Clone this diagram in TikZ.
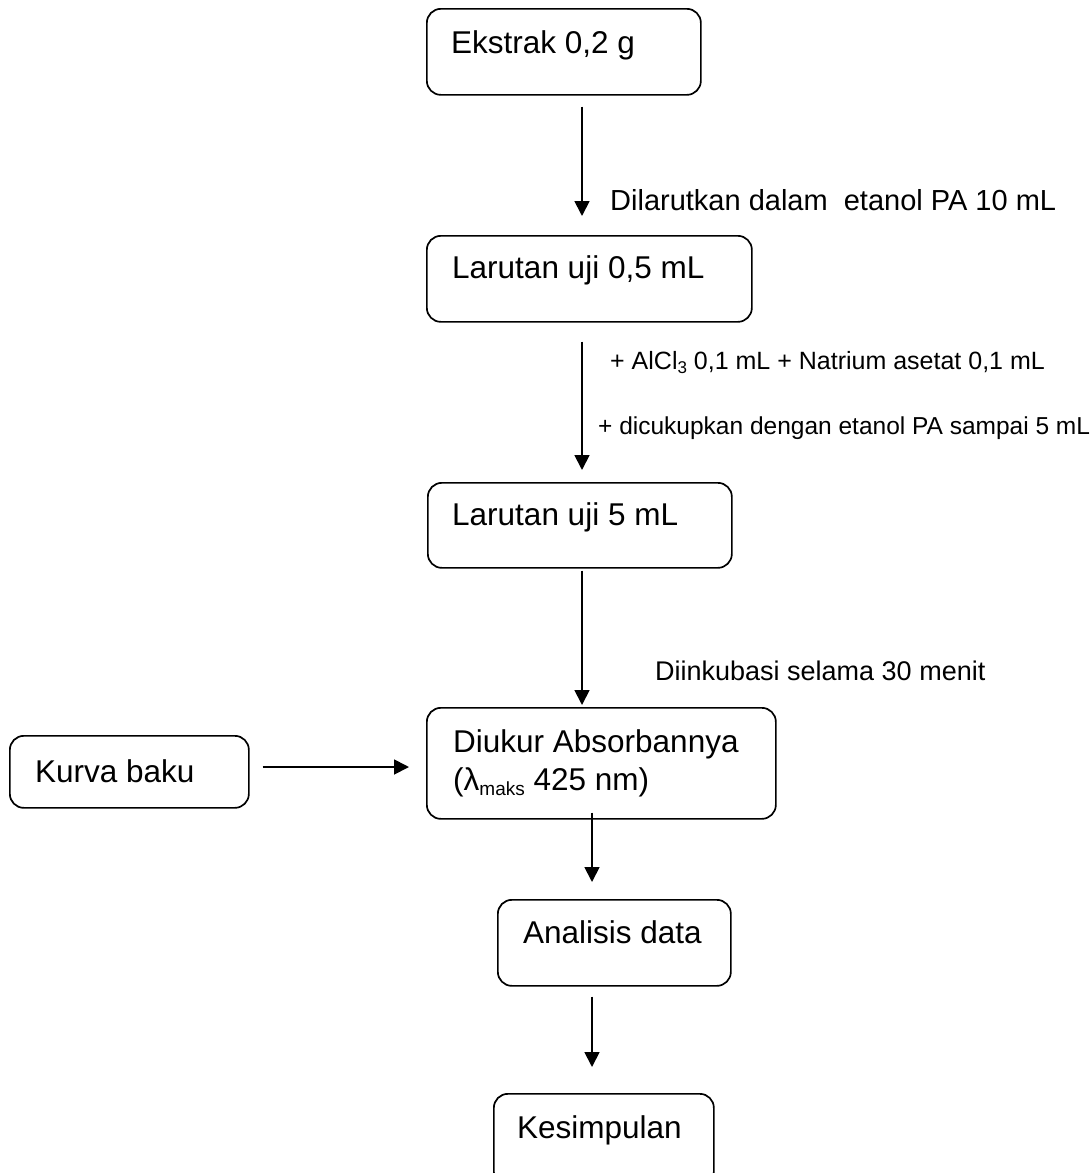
\documentclass[tikz,border=0pt]{standalone}
\usepackage{fontspec}
\setmainfont{Liberation Sans}
\usetikzlibrary{arrows.meta}
\tikzset{
  box/.style={draw, line width=1.7pt, rounded corners=14pt, inner sep=0pt, anchor=north west},
  txt/.style={anchor=base west, inner sep=0pt, font=\fontsize{31.5}{38}\selectfont},
  lbl/.style={anchor=base west, inner sep=0pt, font=\fontsize{24.5}{28}\selectfont},
  arr/.style={line width=1.8pt, -{Triangle[length=15pt,width=15pt]}},
}
\begin{document}
\begin{tikzpicture}[x=1pt,y=-1pt]
\clip (0,0) rectangle (1091,1173);
\fill[white] (0,0) rectangle (1091,1173);
% boxes
\node[box, minimum width=274pt, minimum height=86pt] (b1) at (426,8) {};
\node[box, minimum width=325pt, minimum height=86pt] (b2) at (426,235) {};
\node[box, minimum width=304pt, minimum height=85pt] (b3) at (427,482) {};
\node[box, minimum width=349pt, minimum height=111pt] (b4) at (426,707) {};
\node[box, minimum width=239pt, minimum height=72pt] (b5) at (9,735) {};
\node[box, minimum width=233pt, minimum height=86pt] (b6) at (497,899) {};
\node[box, minimum width=220pt, minimum height=92pt] (b7) at (493,1093) {};
% box texts
\node[txt] (t1) at (451,53) {Ekstrak 0,2 g};
\node[txt] (t2) at (452,278) {Larutan uji 0,5 mL};
\node[txt] (t3) at (452,525) {Larutan uji 5 mL};
\node[txt] (t4a) at (453,752) {Diukur Absorbannya};
\node[txt] (t4b) at (453,790) {(λ{\fontsize{19}{20}\selectfont\raisebox{-5pt}{maks}} 425 nm)};
\node[txt] (t5) at (35,782) {Kurva baku};
\node[txt] (t6) at (523,943) {Analisis data};
\node[txt] (t7) at (517,1138) {Kesimpulan};
% labels
\node[lbl, font=\fontsize{29}{32}\selectfont] (l1) at (610,210) {Dilarutkan dalam\ \ etanol PA 10 mL};
\node[lbl, font=\fontsize{25}{28}\selectfont] (l2) at (610,369) {+ AlCl{\fontsize{17}{18}\selectfont\raisebox{-4pt}{3}} 0,1 mL + Natrium asetat 0,1 mL};
\node[lbl] (l3) at (598,434) {+ dicukupkan dengan etanol PA sampai 5 mL};
\node[lbl, font=\fontsize{27}{30}\selectfont] (l4) at (655,680) {Diinkubasi selama 30 menit};
% arrows
\coordinate (ax) at (582,0);
\coordinate (bx) at (592,0);
\coordinate (hy) at (0,767);
\draw[arr, shorten <=11pt, shorten >=19pt] (b1.south -| ax) -- (b2.north -| ax);
\draw[arr, shorten <=19pt, shorten >=12pt] (b2.south -| ax) -- (b3.north -| ax);
\draw[arr, shorten <=2pt, shorten >=2pt] (b3.south -| ax) -- (b4.north -| ax);
\draw[arr, shorten <=13pt, shorten >=17pt] (b5.east |- hy) -- (b4.west |- hy);
\draw[arr, shorten <=-7pt, shorten >=17pt] (b4.south -| bx) -- (b6.north -| bx);
\draw[arr, shorten <=10pt, shorten >=26pt] (b6.south -| bx) -- (b7.north -| bx);
\end{tikzpicture}
\end{document}
